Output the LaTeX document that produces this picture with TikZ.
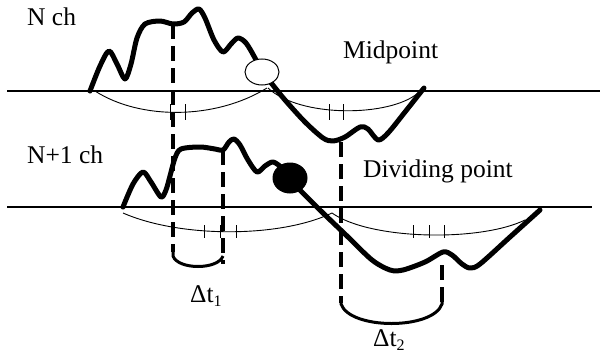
\documentclass[tikz,border=0pt]{standalone}
\usepackage{fontspec}
\setmainfont{Liberation Serif}
\usetikzlibrary{shapes.geometric}
\tikzset{
  lbl/.style={anchor=base west,inner sep=0pt,font=\fontsize{25.5}{28}\selectfont},
  axis/.style={line width=2pt},
  wave/.style={line width=5pt,line join=round,line cap=round},
  thin/.style={line width=0.9pt},
  tick/.style={line width=0.9pt},
  dline/.style={line width=3.6pt,dash pattern=on 15pt off 7pt},
  brack/.style={line width=3pt},
}
\newcommand{\sbs}[1]{\raisebox{-4pt}{\fontsize{16}{16}\selectfont #1}}
\begin{document}
\begin{tikzpicture}[x=1pt,y=-1pt]
\useasboundingbox (0,0) rectangle (601,353);
% axes
\draw[axis] (7,91) coordinate (a1) -- (600,91) coordinate (a2);
\draw[axis] (7,207) coordinate (b1) -- (592,207) coordinate (b2);
% dashed lines
\draw[dline] (173,24) -- (173,252);
\draw[dline] (223,150) -- (223,264);
\draw[dline] (341,142) -- (341,303);
\draw[dline] (442,265) -- (442,303);
% brackets
\draw[brack] (173,248) -- (173,256) .. controls (178,270) and (218,270) .. (223,256);
\draw[brack] (341,298) -- (341,304) .. controls (350,330) and (433,330) .. (442,304) -- (442,298);
% thin arcs top
\draw[thin] (95,91) .. controls (140,120) and (215,120) .. (267,88);
\draw[thin] (268,88) .. controls (300,118) and (390,117) .. (418,93);
% thin arcs bottom
\draw[thin] (123,213) .. controls (180,238) and (280,238) .. (332,213);
\draw[thin] (332,213) .. controls (370,240) and (480,242) .. (525,220);
% ticks
\foreach \x in {170,185,329,343} \draw[tick] (\x,104) -- (\x,120);
\foreach \x in {204,220,236,413,429,444} \draw[tick] (\x,225) -- (\x,238);
% top wave
\draw[wave] plot[smooth,tension=0.5] coordinates {(90,91) (100,66) (109,51) (117,64) (125,79) (131,64) (137,38) (145,24) (160,21) (173,24) (184,22) (192,13) (199,9) (205,18) (214,40) (223,52) (231,44) (238,38) (246,43) (255,58) (262,72) (272,84) (285,100) (305,122) (323,138) (333,141) (345,137) (360,127) (368,129) (378,140) (388,133) (405,112) (424,88)};
% bottom wave
\draw[wave] plot[smooth,tension=0.5] coordinates {(123,207) (133,184) (143,172) (151,182) (161,197) (166,190) (170,176) (175,158) (181,149) (200,147) (215,149) (223,150) (229,142) (234,139) (240,145) (248,160) (257,172) (265,166) (273,162) (282,168) (290,178) (300,190) (323,213) (347,236) (372,260) (390,270) (403,270) (425,262) (443,252) (452,255) (462,264) (470,268) (480,264) (510,237) (540,210)};
% points
\node[ellipse,draw,fill=white,line width=1pt,minimum width=34pt,minimum height=26pt,inner sep=0pt] (mid) at (262,72) {};
\node[ellipse,draw,fill=black,line width=1pt,minimum width=34pt,minimum height=30pt,inner sep=0pt] (div) at (290,178) {};
% labels
\node[lbl] (nch) at (27,26) {N ch};
\node[lbl] (n1ch) at (27,163) {N+1 ch};
\node[lbl] (midl) at (343,59) {Midpoint};
\node[lbl] (divl) at (363,177) {Dividing point};
\node[lbl] (dt1) at (190,302) {Δt\sbs{1}};
\node[lbl] (dt2) at (373,346) {Δt\sbs{2}};
\end{tikzpicture}
\end{document}
